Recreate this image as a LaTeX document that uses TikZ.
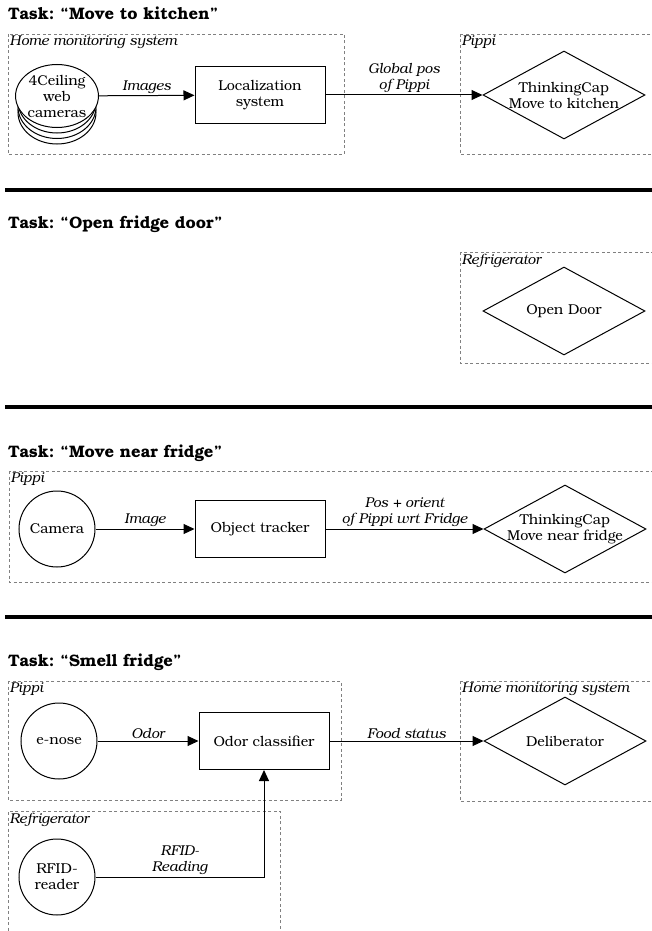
\documentclass[tikz,border=0pt]{standalone}
\usepackage{fontspec}
\setmainfont{TeX Gyre Bonum}
\frenchspacing
\usepackage{tikz}
\usetikzlibrary{shapes}
\usetikzlibrary{positioning}
\usetikzlibrary{arrows.meta}
\tikzset{
    tasktitle/.style = {anchor=base west, inner sep=0pt, font=\bfseries\fontsize{16.6}{19}\selectfont},
    divider/.style = {line width=4pt},
    area/.style = {draw=gray, line width=0.9pt, dash pattern=on 3pt off 2.5pt},
    arealabel/.style = {anchor=north west, inner sep=1.5pt, font=\itshape\fontsize{14.2}{16}\selectfont},
    sensor/.style = {circle, draw=black, line width=1pt, minimum size=76pt, inner sep=0pt, align=center, fill=white, font=\fontsize{14.3}{16}\selectfont},
    camstack/.style = {ellipse, draw=black, line width=1pt, minimum width=78pt, minimum height=63pt, inner sep=0pt, align=center, fill=white, font=\fontsize{14.3}{16}\selectfont},
    process/.style = {rectangle, draw=black, line width=1pt, minimum width=130pt, minimum height=57pt, align=center, font=\fontsize{14.3}{16}\selectfont},
    decision/.style = {diamond, draw=black, line width=1pt, minimum width=162pt, minimum height=88pt, aspect=1.8, inner sep=-9pt, align=center, font=\fontsize{14.3}{16}\selectfont},
    flow/.style = {-{Triangle[length=11pt,width=10pt]}, line width=1pt},
    flowlabel/.style = {above, align=center, inner sep=1.5pt, font=\itshape\fontsize{14.2}{16}\selectfont}
}

\begin{document}
\begin{tikzpicture}[x=1pt,y=-1pt]
\useasboundingbox (0,0) rectangle (652,931);
%
% Move to kitchen
\node[tasktitle] (t1) at (8,20) {Task: “Move to kitchen”};
\draw[area] (8,34) rectangle (344,154);
\node[arealabel] (a1) at (8,34) {Home monitoring system};
\draw[area] (460,34) rectangle (655,154);
\node[arealabel] (a2) at (460,34) {Pippi};
\foreach \k in {3,2,1} {\node[camstack] (cam\k) at (57,{96+5.5*\k}) {};}
\node[camstack] (cams) at (57,96) {4Ceiling\\web\\cameras};
\node[process] (loc) at (260,95) {Localization\\system};
\node[decision] (think1) at (564,95) {ThinkingCap\\Move to kitchen};
\draw[flow] (cams) -- node[flowlabel] {Images} (loc);
\draw[flow] (loc) -- node[flowlabel] {Global pos\\of Pippi} (think1);
\draw[divider] (5,190) -- (655,190);
%
% Open fridge door
\node[tasktitle] (t2) at (8,228) {Task: “Open fridge door”};
\draw[area] (460,252) rectangle (655,363);
\node[arealabel] (a3) at (460,252) {Refrigerator};
\node[decision] (door) at (564,311) {Open Door};
\draw[divider] (5,407) -- (655,407);
%
% Move near fridge
\node[tasktitle] (t3) at (8,457) {Task: “Move near fridge”};
\draw[area] (9,471) rectangle (655,582);
\node[arealabel] (a4) at (9,471) {Pippi};
\node[sensor] (cam) at (57,529) {Camera};
\node[process] (tracker) at (260,529) {Object tracker};
\node[decision] (think2) at (565,529) {ThinkingCap\\Move near fridge};
\draw[flow] (cam) -- node[flowlabel] {Image} (tracker);
\draw[flow] (tracker) -- node[flowlabel] {Pos + orient\\of Pippi wrt Fridge} (think2);
\draw[divider] (5,617) -- (655,617);
%
% Smell fridge
\node[tasktitle] (t4) at (8,666) {Task: “Smell fridge”};
\draw[area] (8,681) rectangle (341,800);
\node[arealabel] (a5) at (8,681) {Pippi};
\draw[area] (460,681) rectangle (655,801);
\node[arealabel] (a6) at (460,681) {Home monitoring system};
\draw[area] (280,934) -- (280,811) -- (8,811) -- (8,934);
\node[arealabel] (a7) at (8,811) {Refrigerator};
\node[sensor] (enose) at (59,741) {e-nose};
\node[process] (odor) at (264,741) {Odor classifier};
\node[decision] (delib) at (565,741) {Deliberator};
\node[sensor] (rfid) at (57,877) {RFID-\\reader};
\draw[flow] (enose) -- node[flowlabel] {Odor} (odor);
\draw[flow] (odor) -- node[flowlabel] {Food status} (delib);
\draw[flow] (rfid) -| node[flowlabel, pos=0.25] {RFID-\\Reading} (odor);
\end{tikzpicture}
\end{document}
